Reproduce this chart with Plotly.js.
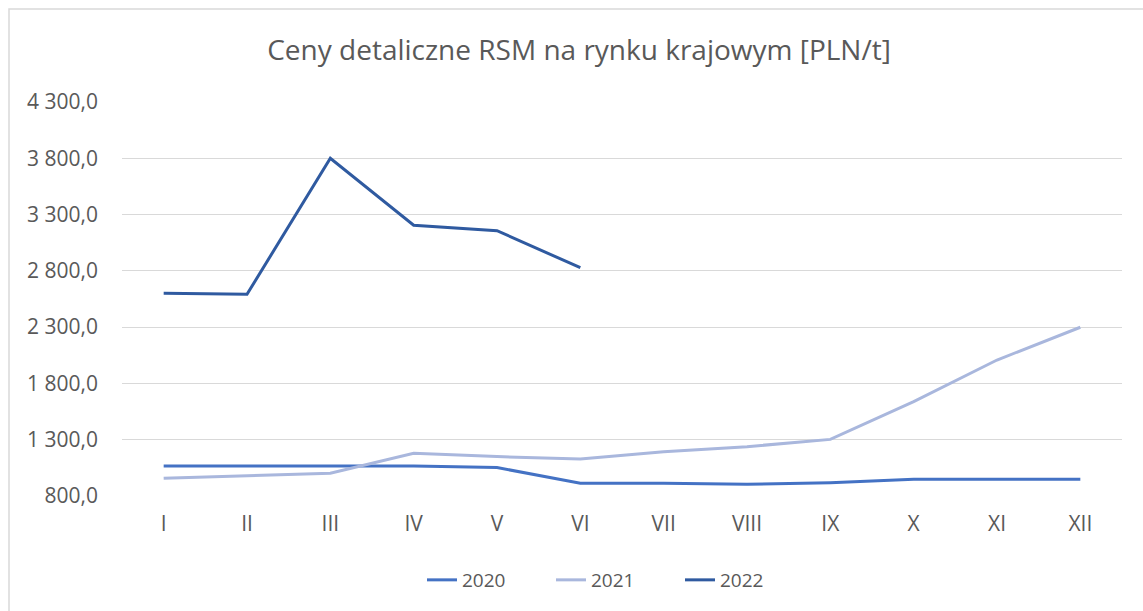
<!DOCTYPE html>
<html>
<head>
<meta charset="utf-8">
<script src="https://cdn.plot.ly/plotly-3.0.1.min.js"></script>
<style>html,body{margin:0;padding:0;background:#fff;}#chart{width:1143px;height:611px;}</style>
</head>
<body>
<div id="chart"></div>
<script>
const months = ["I","II","III","IV","V","VI","VII","VIII","IX","X","XI","XII"];
const y2020 = [1067, 1067, 1067, 1067, 1053, 913, 913, 904, 918, 948, 948, 948];
const y2021 = [957, 980, 1002, 1180, 1150, 1129, 1193, 1238, 1303, 1638, 2008, 2299];
const y2022 = [2600, 2592, 3800, 3205, 3157, 2828];
const seriesNames = ["2020", "2021", "2022"];
const yTicks = [800, 1300, 1800, 2300, 2800, 3300, 3800, 4300];
const yTickText = ["800,0", "1 300,0", "1 800,0", "2 300,0", "2 800,0", "3 300,0", "3 800,0", "4 300,0"];

const FONT = "Open Sans, Noto Sans, sans-serif";
const traces = [
  {x: months, y: y2020, name: seriesNames[0], type: "scatter", mode: "lines",
   line: {color: "#4472C4", width: 3}},
  {x: months.slice(0, y2021.length), y: y2021, name: seriesNames[1], type: "scatter", mode: "lines",
   line: {color: "#A9B7DD", width: 3}},
  {x: months.slice(0, y2022.length), y: y2022, name: seriesNames[2], type: "scatter", mode: "lines",
   line: {color: "#2F5AA0", width: 3}}
];

const layout = {
  width: 1143, height: 611,
  paper_bgcolor: "#ffffff", plot_bgcolor: "#ffffff",
  margin: {l: 122, r: 21, t: 102, b: 115},
  font: {family: FONT, color: "#595959", size: 19},
  title: {text: "Ceny detaliczne RSM na rynku krajowym [PLN/t]",
          font: {family: FONT, size: 28, color: "#595959"},
          xref: "container", x: 0.5066, xanchor: "center",
          yref: "container", y: 1 - 50/611, yanchor: "middle"},
  xaxis: {type: "category", categoryorder: "array", categoryarray: months,
          range: [-0.5, 11.5], showgrid: false, zeroline: false,
          showline: false, ticks: "", ticklabelstandoff: 13,
          tickfont: {family: FONT, size: 21, color: "#595959"}, fixedrange: true},
  yaxis: {range: [800, 4300], tickmode: "array", tickvals: yTicks, ticktext: yTickText,
          showgrid: true, gridcolor: "#d9d9d9", gridwidth: 1, zeroline: false,
          showline: false, ticks: "", ticklabelstandoff: 23,
          tickfont: {family: FONT, size: 21, color: "#595959"}, fixedrange: true},
  showlegend: true,
  legend: {orientation: "h", xref: "container", x: 422/1143, xanchor: "left",
           yref: "container", y: 1 - 580/611, yanchor: "middle",
           font: {family: FONT, size: 19, color: "#595959"},
           itemwidth: 30, entrywidth: 84, entrywidthmode: "pixels", traceorder: "normal"},
  shapes: [
    {type: "rect", xref: "paper", yref: "paper",
     x0: (9 - 122) / 1000, x1: 1.1, y0: -0.4, y1: (496 - 9) / 394,
     line: {color: "#d9d9d9", width: 1.5}, fillcolor: "rgba(0,0,0,0)", layer: "below"}
  ]
};

Plotly.newPlot("chart", traces, layout, {displayModeBar: false, staticPlot: true});
</script>
</body>
</html>
